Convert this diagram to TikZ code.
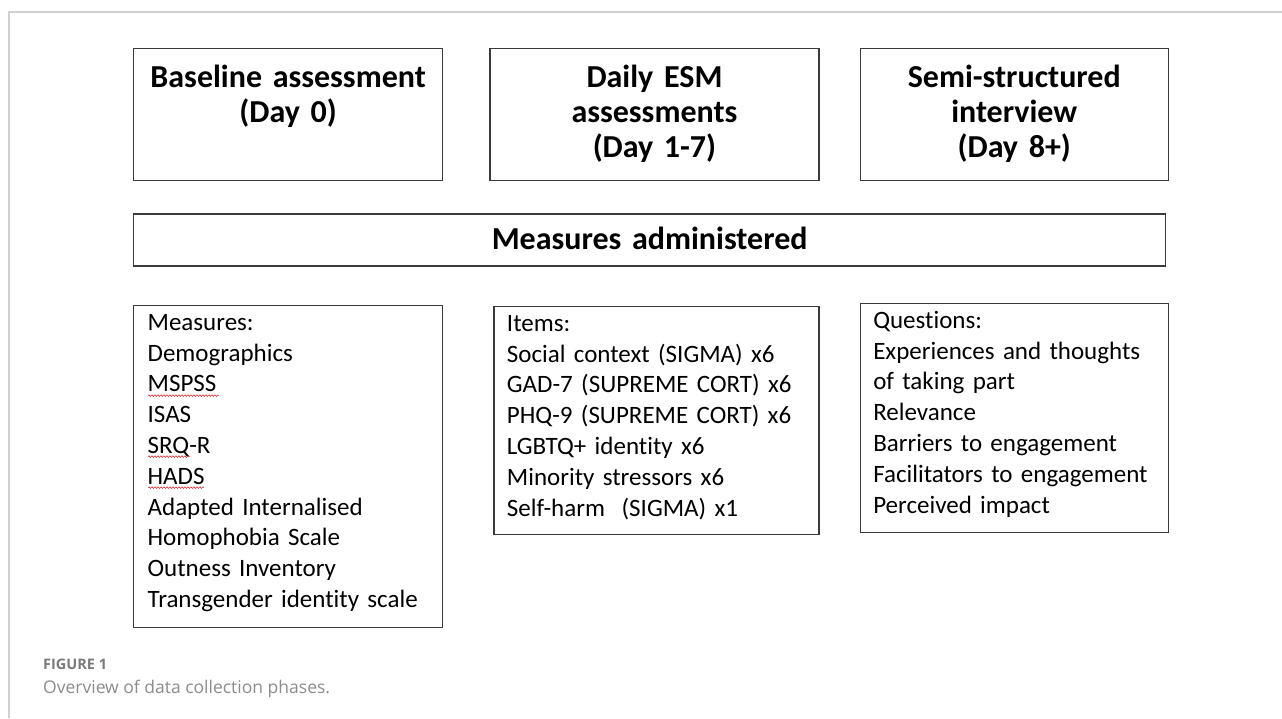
\documentclass[tikz,border=0pt]{standalone}
\usepackage{fontspec}
\setmainfont{Carlito}[Ligatures=NoCommon]
\newfontfamily\capfont{Open Sans}
\usetikzlibrary{positioning,decorations.pathmorphing}
\definecolor{framegray}{HTML}{D0D0D0}
\definecolor{boxline}{HTML}{3A3A3A}
\definecolor{capgray}{HTML}{7A7A7A}
\definecolor{capgraylight}{HTML}{8C8C8C}
\definecolor{spellred}{HTML}{D83030}

\begin{document}
\begin{tikzpicture}[
      x=1pt, y=-1pt
    ]

    \tikzstyle{phase} = [rectangle, draw=boxline, line width=1.3pt, inner xsep=0pt, inner ysep=0pt, align=center, font=\bfseries\fontsize{32}{35}\selectfont, text height=39pt, text depth=93pt]

    \tikzstyle{header} = [rectangle, draw=boxline, line width=1.3pt, inner xsep=0pt, inner ysep=0pt, align=center, font=\bfseries\fontsize{32}{35}\selectfont, text width=1032pt, text height=36pt, text depth=16pt]

    \tikzstyle{listbox} = [rectangle, draw=boxline, line width=1.3pt, inner xsep=14pt, inner ysep=0pt, align=left, font=\fontsize{25}{30.8}\selectfont, text height=25pt]

    \tikzstyle{spellmark} = [spellred, line width=0.6pt, decorate, decoration={snake, amplitude=0.8pt, segment length=3pt}]

    \useasboundingbox (0,0) rectangle (1282,718);
    \draw [framegray, line width=1.5pt] (9,718) -- (9,12) -- (1282,12);

    \node [phase, text width=309pt, anchor=north west] (day0) at (133,48) {Baseline assessment\\(Day 0)};
    \node [phase, text width=329pt] (esm) [node distance=46pt, right=of day0] {Daily ESM\\assessments\\(Day 1-7)};
    \node [phase, text width=308pt] (interview) [node distance=40pt, right=of esm] {Semi-structured\\interview\\(Day 8+)};

    \node [header] (measures) [below right=32pt and 0pt of day0.south west] {Measures administered};

    \node [listbox, text width=281pt, text depth=297pt] (day0list) [below right=38pt and 0pt of measures.south west] {Measures:\\Demographics\\MSPSS\\ISAS\\SRQ-R\\HADS\\Adapted Internalised\\Homophobia Scale\\Outness Inventory\\Transgender identity scale};
    \node [listbox, inner xsep=13pt, text width=299pt, text depth=203pt] (esmlist) [node distance=50pt, right=of day0list.north east, anchor=north west, yshift=-1pt] {Items:\\Social context (SIGMA) x6\\GAD-7 (SUPREME CORT) x6\\PHQ-9 (SUPREME CORT) x6\\LGBTQ+ identity x6\\Minority stressors x6\\Self-harm~ (SIGMA) x1};
    \node [listbox, inner xsep=13pt, text width=282pt, text depth=204pt] (interviewlist) [node distance=40pt, right=of esmlist.north east, anchor=north west, yshift=3pt] {Questions:\\Experiences and thoughts\\of taking part\\Relevance\\Barriers to engagement\\Facilitators to engagement\\Perceived impact};

    % spell-check marks under MSPSS, SRQ and HADS
    \draw [spellmark] ([shift={(15,91)}]day0list.north west) -- ++(71,0);
    \draw [spellmark] ([shift={(15,152)}]day0list.north west) -- ++(42,0);
    \draw [spellmark] ([shift={(15,183)}]day0list.north west) -- ++(56,0);

    \node [anchor=base west, inner sep=0pt, text=capgray, font=\capfont\bfseries\fontsize{14.5}{16}\selectfont] (figlabel) at (43,669) {FIGURE 1};
    \node [anchor=base west, inner sep=0pt, text=capgraylight, font=\capfont\fontsize{17.5}{20}\selectfont] (figcaption) at (43,693) {Overview of data collection phases.};

\end{tikzpicture}
\end{document}
